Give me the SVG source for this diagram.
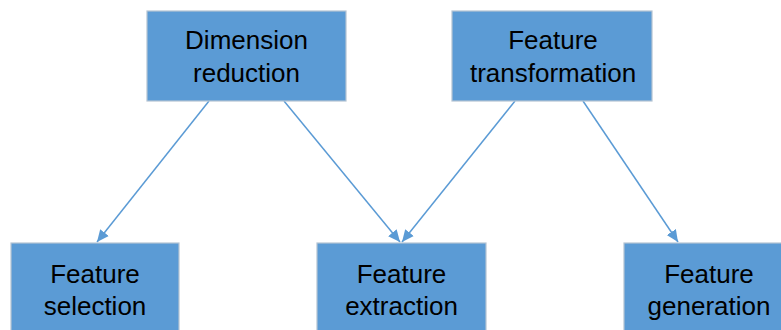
<svg xmlns="http://www.w3.org/2000/svg" width="781" height="330" viewBox="0 0 781 330">
<style>
.box{fill:#5B9BD5;stroke:#B4C3D3;stroke-width:1.2}
.t{font-family:"Liberation Sans",Arial,sans-serif;font-size:26px;fill:#000;text-anchor:middle}
.c{stroke:#5B9BD5;stroke-width:1.5;fill:none;marker-end:url(#ah)}
</style>
<defs>
<marker id="ah" viewBox="0 0 12 12" refX="12" refY="6" markerWidth="12" markerHeight="12" markerUnits="userSpaceOnUse" orient="auto">
<path d="M0,0.5 L12,6 L0,11.5 Z" fill="#5B9BD5"/>
</marker>
</defs>
<rect width="781" height="330" fill="#fff"/>
<g id="connectors">
<line class="c" x1="209" y1="101" x2="97" y2="242"/>
<line class="c" x1="284" y1="101" x2="400" y2="242"/>
<line class="c" x1="515" y1="101" x2="402" y2="242"/>
<line class="c" x1="583" y1="101" x2="678" y2="242"/>
</g>
<g id="dimension-reduction">
<rect class="box" x="147" y="11" width="199" height="90"/>
<text class="t" x="246.5" y="49">Dimension</text>
<text class="t" x="246.5" y="82">reduction</text>
</g>
<g id="feature-transformation">
<rect class="box" x="452" y="11" width="200" height="90"/>
<text class="t" x="553" y="49">Feature</text>
<text class="t" x="553" y="82">transformation</text>
</g>
<g id="feature-selection">
<rect class="box" x="11" y="243" width="168" height="100"/>
<text class="t" x="95" y="283">Feature</text>
<text class="t" x="95" y="315">selection</text>
</g>
<g id="feature-extraction">
<rect class="box" x="317" y="243" width="169" height="100"/>
<text class="t" x="401.5" y="283">Feature</text>
<text class="t" x="401.5" y="315">extraction</text>
</g>
<g id="feature-generation">
<rect class="box" x="624" y="243" width="170" height="100"/>
<text class="t" x="709" y="283">Feature</text>
<text class="t" x="709" y="315">generation</text>
</g>
</svg>
